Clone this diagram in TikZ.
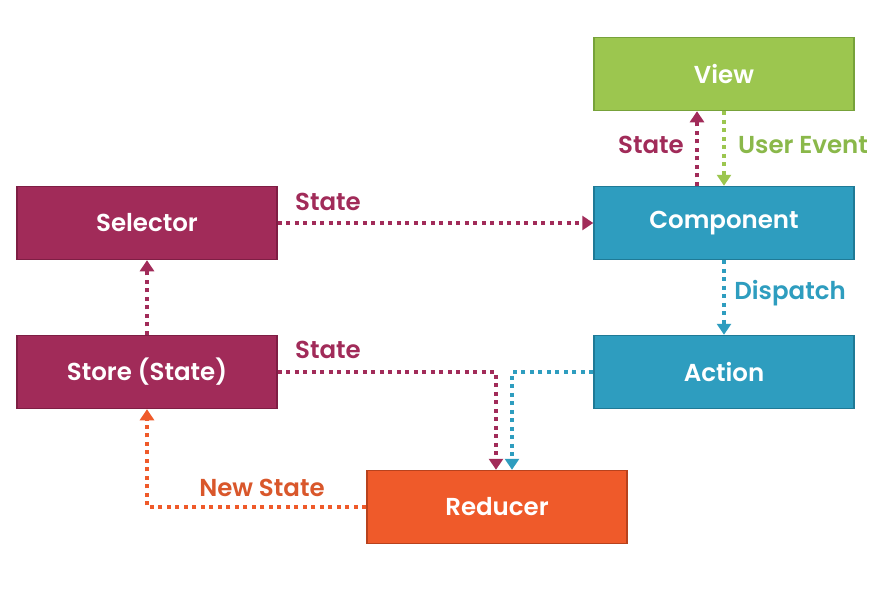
\documentclass[tikz,border=0pt]{standalone}
\usepackage{fontspec}
\setmainfont{Poppins}[BoldFont={* SemiBold}]
\usetikzlibrary{arrows.meta}
\definecolor{cview}{HTML}{9CC64F}
\definecolor{cviewd}{HTML}{77A23A}
\definecolor{cmar}{HTML}{A12B59}
\definecolor{cmard}{HTML}{7E1E44}
\definecolor{cteal}{HTML}{2E9DBF}
\definecolor{ctead}{HTML}{1F7A96}
\definecolor{corg}{HTML}{EF5A2A}
\definecolor{corgd}{HTML}{B8421D}
\definecolor{lgreen}{HTML}{8AB84A}
\definecolor{lorg}{HTML}{D9572B}
\begin{document}
\begin{tikzpicture}[x=1pt,y=-1pt,
  box/.style={draw, line width=1.5pt, minimum width=260pt, minimum height=73pt, inner sep=0pt,
     text=white, font=\fontsize{24.5}{28}\selectfont\bfseries},
  conn/.style={line width=4pt, dash pattern=on 4pt off 4.5pt,
     -{Triangle[length=11pt,width=14pt]}, shorten >=0pt},
  lbl/.style={font=\fontsize{24.5}{28}\selectfont\bfseries, inner sep=0pt}]
\useasboundingbox (0,0) rectangle (885,590);
\fill[white] (0,0) rectangle (885,590);
\node[box, fill=cview, draw=cviewd] (view) at (724,74) {View};
\node[box, fill=cmar, draw=cmard] (sel) at (147,223) {Selector};
\node[box, fill=cteal, draw=ctead] (comp) at (724,223) {Component};
\node[box, fill=cmar, draw=cmard] (store) at (147,372) {Store (State)};
\node[box, fill=cteal, draw=ctead] (act) at (724,372) {Action};
\node[box, fill=corg, draw=corgd] (red) at (497,507) {Reducer};

\draw[conn, cmar] (sel.east) -- (comp.west);
\node[lbl, text=cmar] (l1) at (328,202) {State};
\draw[conn, cmar] (comp.north -| 697,0) -- (view.south -| 697,0);
\node[lbl, text=cmar] (l2) at (651,145) {State};
\draw[conn, cview] (view.south -| 724,0) -- (comp.north -| 724,0);
\node[lbl, text=lgreen] (l3) at (803,145) {User Event};
\draw[conn, cteal] (comp.south) -- (act.north);
\node[lbl, text=cteal] (l4) at (790,293) {Dispatch};
\draw[conn, cmar] (store.north) -- (sel.south);
\draw[conn, cmar] (store.east) -| (red.north -| 496,0);
\node[lbl, text=cmar] (l5) at (328,350) {State};
\draw[conn, cteal] (act.west) -| (red.north -| 512,0);
\draw[conn, corg] (red.west) -| (store.south);
\node[lbl, text=lorg] (l6) at (262,488) {New State};
\end{tikzpicture}
\end{document}
